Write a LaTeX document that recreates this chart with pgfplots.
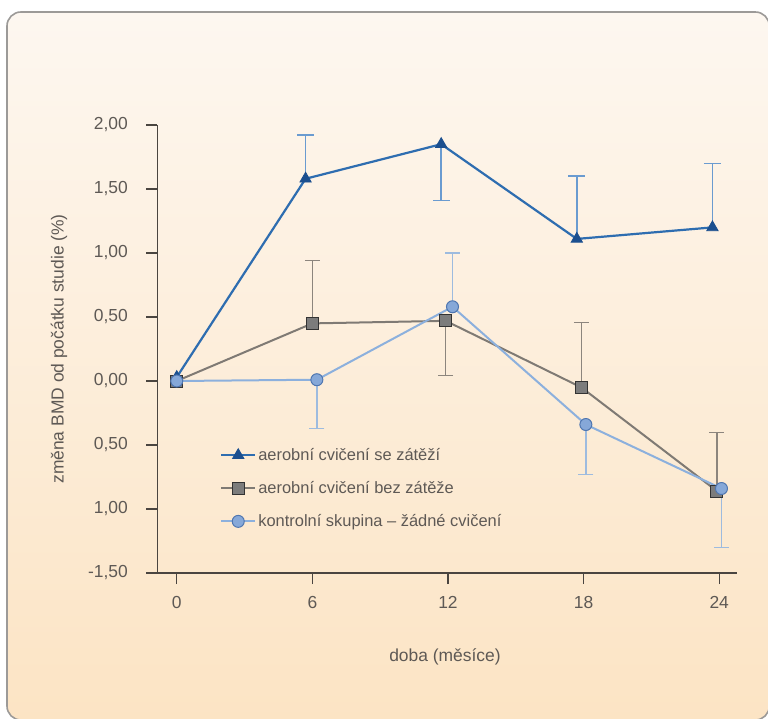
\documentclass[border=0pt]{standalone}
\usepackage{pgfplots}
\pgfplotsset{compat=1.18}
\usepackage{fontspec}
\setmainfont{Liberation Sans}
\definecolor{triline}{HTML}{2E6DB0}
\definecolor{trimark}{HTML}{1B4F8F}
\definecolor{trierr}{HTML}{6A9BD0}
\definecolor{sqline}{HTML}{7F7A74}
\definecolor{sqfill}{HTML}{7C7C7C}
\definecolor{sqdraw}{HTML}{333333}
\definecolor{sqerr}{HTML}{8C857D}
\definecolor{ciline}{HTML}{8CB0DD}
\definecolor{cifill}{HTML}{86A8D8}
\definecolor{cidraw}{HTML}{4F76B0}
\definecolor{cierr}{HTML}{9DBBDF}
\definecolor{axisc}{HTML}{4A4540}
\definecolor{labelc}{HTML}{5E5955}
\definecolor{paneltop}{HTML}{FDF7F0}
\definecolor{panelbot}{HTML}{FCE4C4}
\definecolor{panelborder}{HTML}{9C9A98}
\begin{document}
\begin{tikzpicture}
\useasboundingbox (-157.3bp,-146bp) rectangle (610.7bp,573bp);
\fill[white] (-157.3bp,-146bp) rectangle (610.7bp,573bp);
\shade[top color=paneltop, bottom color=panelbot, rounded corners=14bp] (-150.3bp,-147bp) rectangle (612bp,561bp);
\draw[panelborder, line width=1.6bp, rounded corners=14bp] (-150.3bp,-147bp) rectangle (612bp,561bp);
\begin{axis}[
  at={(0bp,0bp)}, anchor=south west,
  scale only axis, width=580bp, height=448bp,
  xmin=-0.86, xmax=24.8, ymin=-1.5, ymax=2.0,
  clip=false,
  axis lines*=left,
  axis line style={color=axisc, line width=1.3bp},
  tick align=outside, major tick length=11bp,
  tick style={color=axisc, line width=1.3bp},
  xtick={0,6,12,18,24},
  xticklabels={0,6,12,18,24},
  ytick={-1.5,-1,-0.5,0,0.5,1,1.5,2},
  yticklabels={{-1,50},{1,00},{0,50},{0,00},{0,50},{1,00},{1,50},{2,00}},
  ticklabel style={font=\fontsize{17.5}{19}\selectfont, text=labelc},
  yticklabel style={xshift=-15bp},
  xticklabel style={yshift=-9bp},
  label style={font=\fontsize{17.5}{19}\selectfont, text=labelc},
  xlabel={doba (měsíce)},
  ylabel={změna BMD od počátku studie (\%)},
  xlabel style={at={(axis description cs:0.496,-0.1875)}, anchor=center},
  ylabel style={at={(axis description cs:-0.1695,0.5)}, anchor=center},
  legend style={at={(axis description cs:0.108,0.283)}, anchor=north west,
    draw=none, fill=none, font=\fontsize{16.5}{18}\selectfont, text=labelc,
    row sep=15.5bp, inner sep=0pt},
  legend cell align=left,
  legend image code/.code={\draw[mark repeat=2,mark phase=2] plot coordinates {(0bp,0bp) (17bp,0bp) (34bp,0bp)};},
]
% error bars (drawn first, behind the lines)
\addplot[forget plot, draw=none, mark=none,
  error bars/.cd, y dir=plus, y explicit,
  error bar style={draw=trierr, line width=1.5bp},
  error mark options={rotate=90, draw=trierr, line width=1.5bp, mark size=8.5bp}]
  coordinates {(5.7,1.58) +- (0,0.34) (17.7,1.11) +- (0,0.49) (23.7,1.20) +- (0,0.50)};
\addplot[forget plot, draw=none, mark=none,
  error bars/.cd, y dir=minus, y explicit,
  error bar style={draw=trierr, line width=1.5bp},
  error mark options={rotate=90, draw=trierr, line width=1.5bp, mark size=8.5bp}]
  coordinates {(11.7,1.85) +- (0,0.44)};
\addplot[forget plot, draw=none, mark=none,
  error bars/.cd, y dir=plus, y explicit,
  error bar style={draw=sqerr, line width=1.1bp},
  error mark options={rotate=90, draw=sqerr, line width=1.1bp, mark size=7.5bp}]
  coordinates {(6.0,0.45) +- (0,0.49) (17.9,-0.05) +- (0,0.51) (23.9,-0.86) +- (0,0.46)};
\addplot[forget plot, draw=none, mark=none,
  error bars/.cd, y dir=minus, y explicit,
  error bar style={draw=sqerr, line width=1.1bp},
  error mark options={rotate=90, draw=sqerr, line width=1.1bp, mark size=7.5bp}]
  coordinates {(11.9,0.47) +- (0,0.43)};
\addplot[forget plot, draw=none, mark=none,
  error bars/.cd, y dir=minus, y explicit,
  error bar style={draw=cierr, line width=1.5bp},
  error mark options={rotate=90, draw=cierr, line width=1.5bp, mark size=7.5bp}]
  coordinates {(6.2,0.01) +- (0,0.38) (18.1,-0.34) +- (0,0.39) (24.1,-0.84) +- (0,0.46)};
\addplot[forget plot, draw=none, mark=none,
  error bars/.cd, y dir=plus, y explicit,
  error bar style={draw=cierr, line width=1.5bp},
  error mark options={rotate=90, draw=cierr, line width=1.5bp, mark size=7.5bp}]
  coordinates {(12.2,0.58) +- (0,0.42)};
% series
\addplot[triline, line width=2.2bp, mark=triangle*, mark size=6.5bp,
  mark options={fill=trimark, draw=trimark, solid, line width=0.8bp}]
  coordinates {(0,0.03) (5.7,1.58) (11.7,1.85) (17.7,1.11) (23.7,1.20)};
\addlegendentry{aerobní cvičení se zátěží}
\addplot[sqline, line width=2bp, mark=square*, mark size=6bp,
  mark options={fill=sqfill, draw=sqdraw, solid, line width=1bp}]
  coordinates {(0,0) (6.0,0.45) (11.9,0.47) (17.9,-0.05) (23.9,-0.86)};
\addlegendentry{aerobní cvičení bez zátěže}
\addplot[ciline, line width=2bp, mark=*, mark size=6bp,
  mark options={fill=cifill, draw=cidraw, solid, line width=1bp}]
  coordinates {(0,0) (6.2,0.01) (12.2,0.58) (18.1,-0.34) (24.1,-0.84)};
\addlegendentry{kontrolní skupina – žádné cvičení}
\end{axis}
\end{tikzpicture}
\end{document}
